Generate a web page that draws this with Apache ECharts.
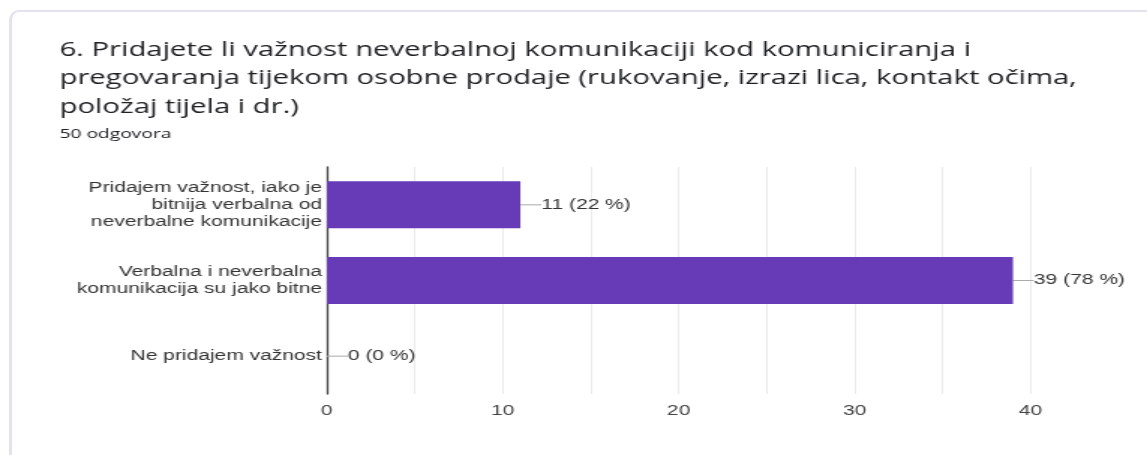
<!DOCTYPE html>
<html>
<head>
<meta charset="utf-8">
<script src="https://cdn.jsdelivr.net/npm/echarts@6/dist/echarts.min.js"></script>
<style>
html,body{margin:0;padding:0;background:#fff;overflow:hidden;}
#card{position:absolute;left:9px;top:10px;width:1160px;height:460px;border:2px solid #e4e2ef;border-left-width:3px;border-radius:10px;box-sizing:border-box;}
#wrap{position:absolute;left:0;top:0;width:765px;height:455px;transform:scaleX(1.4994);transform-origin:0 0;}
#chart{width:765px;height:455px;}
</style>
</head>
<body>
<div id="card"></div>
<div id="wrap"><div id="chart"></div></div>
<script>
const titleText = '6. Pridajete li važnost neverbalnoj komunikaciji kod komuniciranja i\npregovaranja tijekom osobne prodaje (rukovanje, izrazi lica, kontakt očima,\npoložaj tijela i dr.)';
const subtitleText = '50 odgovora';
const categories = [
  'Pridajem važnost, iako je\nbitnija verbalna od\nneverbalne komunikacije',
  'Verbalna i neverbalna\nkomunikacija su jako bitne',
  'Ne pridajem važnost'
];
const counts = [11, 39, 0];
const percents = [22, 78, 0];

const chart = echarts.init(document.getElementById('chart'), null, {renderer: 'canvas'});
chart.setOption({
  animation: false,
  title: [
    {text: titleText, left: 34.7, top: 31,
     textStyle: {fontFamily: 'Open Sans', fontSize: 19.5, fontWeight: 'normal', color: '#202124', lineHeight: 28.5}},
    {text: subtitleText, left: 34.7, top: 122.5,
     textStyle: {fontFamily: 'Open Sans', fontSize: 12.8, fontWeight: 'normal', color: '#202124'}}
  ],
  grid: {left: 218, right: 77.7, top: 167, bottom: 61},
  xAxis: {
    type: 'value', min: 0, max: 40, interval: 10,
    axisLine: {show: false}, axisTick: {show: false},
    axisLabel: {fontFamily: 'Liberation Sans', fontSize: 14, color: '#444', margin: 10},
    splitLine: {show: true, lineStyle: {color: '#ebebeb', width: 1}},
    minorTick: {show: false, splitNumber: 2},
    minorSplitLine: {show: true, lineStyle: {color: '#ebebeb', width: 1}}
  },
  yAxis: {
    type: 'category', inverse: true, data: categories,
    axisLine: {show: true, lineStyle: {color: '#444', width: 1.3}},
    axisTick: {show: false},
    axisLabel: {fontFamily: 'Liberation Sans', fontSize: 14, color: '#333', lineHeight: 17, margin: 3.3, align: 'right'}
  },
  series: [{
    type: 'bar',
    data: counts,
    barWidth: 47,
    itemStyle: {color: '#673ab7'},
    label: {
      show: true, position: 'right', distance: 0,
      fontFamily: 'Liberation Sans', fontSize: 14, color: '#333',
      formatter: p => p.value + ' (' + percents[p.dataIndex] + ' %)'
    },
    labelLayout: {dx: 14},
    labelLine: {show: true, length2: 0, lineStyle: {color: '#aaa', width: 1}}
  }]
});
</script>
</body>
</html>
